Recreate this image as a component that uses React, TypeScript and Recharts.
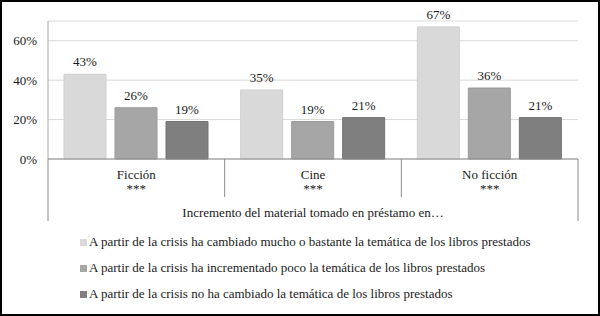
import { BarChart, Bar, XAxis, YAxis, CartesianGrid, Legend, LabelList } from 'recharts'

const categories = ['Ficción', 'Cine', 'No ficción']
const significance = ['***', '***', '***']
const muchoBastante = [43, 35, 67]
const pocoIncremento = [26, 19, 36]
const noCambiado = [19, 21, 21]
const seriesNames = [
  'A partir de la crisis ha cambiado mucho o bastante la temática de los libros prestados',
  'A partir de la crisis ha incrementado poco la temática de los libros prestados',
  'A partir de la crisis no ha cambiado la temática de los libros prestados',
]
const yTicks = [0, 20, 40, 60]
const axisTitle = 'Incremento del material tomado en préstamo en…'

const data = categories.map((cat, i) => ({
  cat,
  mucho: muchoBastante[i],
  poco: pocoIncremento[i],
  nada: noCambiado[i],
}))

const keys = ['mucho', 'poco', 'nada']
const fills = ['#d9d9d9', '#a6a6a6', '#7f7f7f']
const strokes = ['#cfcfcf', '#999999', '#737373']

const FONT = "'Liberation Serif', 'DejaVu Serif', serif"
const FS = 13
const TEXT = '#1a1a1a'
const LINE = '#8c8c8c'

const W = 600
const H = 316
const margin = { top: 21, right: 22, bottom: 94, left: 0 }
const Y_WIDTH = 48
const BAND = (W - margin.left - margin.right - Y_WIDTH) / categories.length

function CategoryTick(props: any) {
  const { x, y, payload, index } = props
  const half = BAND / 2
  const last = index === categories.length - 1
  return (
    <g>
      <line x1={x - half} x2={x - half} y1={y} y2={y + (index === 0 ? 62 : 38)} stroke={LINE} />
      {last && <line x1={x + half} x2={x + half} y1={y} y2={y + 62} stroke={LINE} />}
      <text x={x} y={y + 19.5} textAnchor="middle" fill={TEXT} style={{ fontFamily: FONT, fontSize: FS }}>
        {payload.value}
      </text>
      <text x={x} y={y + 34} textAnchor="middle" fill={TEXT} style={{ fontFamily: FONT, fontSize: 13 }}>
        {significance[index]}
      </text>
    </g>
  )
}

function LegendBox() {
  return (
    <div style={{ fontFamily: FONT, fontSize: FS, color: TEXT, whiteSpace: 'nowrap' }}>
      {seriesNames.map((name, i) => (
        <div key={name} style={{ display: 'flex', alignItems: 'center', height: 26 }}>
          <span style={{ width: 7, height: 7, background: fills[i], marginRight: 2, display: 'inline-block' }} />
          {name}
        </div>
      ))}
    </div>
  )
}

export default function App() {
  return (
    <div style={{ position: 'absolute', top: 0, left: 0, width: W, height: H, background: '#fff', fontFamily: FONT }}>
      <BarChart width={W} height={H} data={data} margin={margin} barCategoryGap={16} barGap={9} style={{ fontFamily: FONT }}>
        <CartesianGrid vertical={false} stroke="#d9d9d9" />
        <YAxis
          width={Y_WIDTH}
          domain={[0, 70]}
          ticks={yTicks}
          tickFormatter={(v: number) => `${v}%`}
          axisLine={{ stroke: '#a6a6a6' }}
          tickLine={false}
          tickMargin={5}
          tick={{ fill: TEXT, fontSize: FS, style: { fontFamily: FONT } }}
        />
        <XAxis
          dataKey="cat"
          height={63}
          interval={0}
          axisLine={{ stroke: LINE }}
          tickLine={false}
          tickSize={0}
          tickMargin={0}
          tick={<CategoryTick />}
          label={{ value: axisTitle, position: 'insideBottom', offset: 5, fill: TEXT, fontSize: FS, style: { fontFamily: FONT } }}
        />
        <Legend
          layout="vertical"
          align="center"
          verticalAlign="middle"
          content={() => <LegendBox />}
          wrapperStyle={{ top: 229, left: 80, width: 500, height: 78 }}
        />
        {keys.map((k, i) => (
          <Bar key={k} dataKey={k} name={seriesNames[i]} fill={fills[i]} stroke={strokes[i]} isAnimationActive={false}>
            <LabelList
              dataKey={k}
              position="top"
              offset={8}
              formatter={(v: any) => `${v}%`}
              fill={TEXT}
              fontSize={FS}
              style={{ fontFamily: FONT }}
            />
          </Bar>
        ))}
      </BarChart>
      <div
        style={{
          position: 'absolute',
          top: 0,
          left: 0,
          width: W,
          height: H,
          boxSizing: 'border-box',
          border: '2px solid #000',
          pointerEvents: 'none',
        }}
      />
    </div>
  )
}
